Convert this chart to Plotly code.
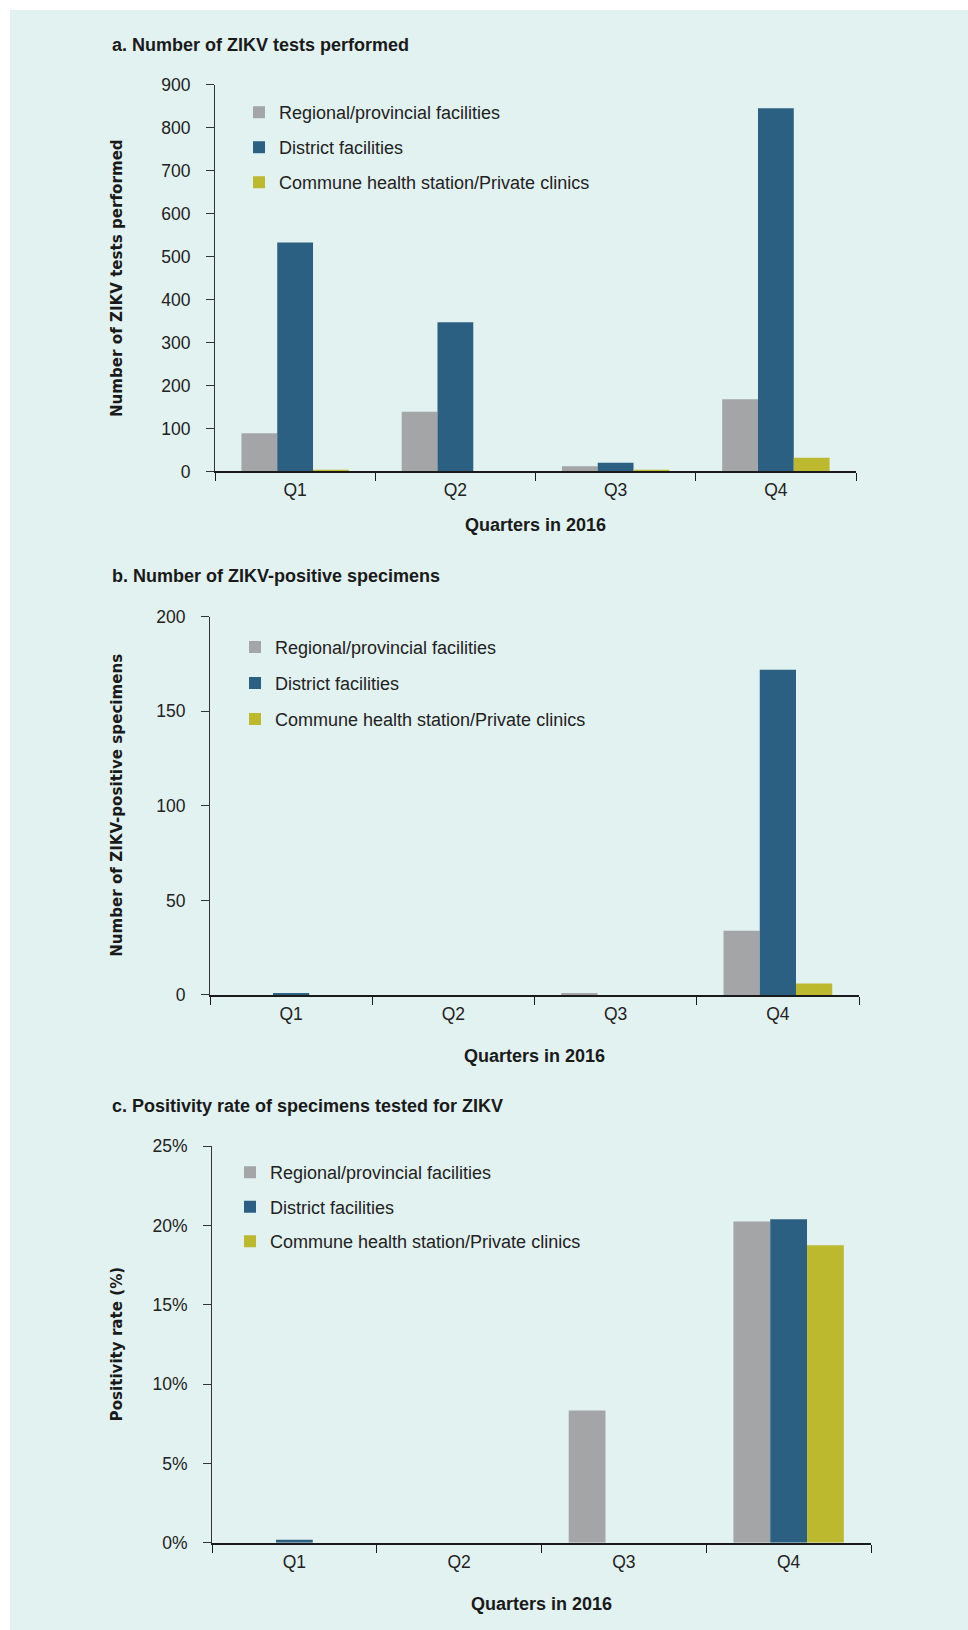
import plotly.graph_objects as go

# ---------------- data ----------------
quarters = ["Q1", "Q2", "Q3", "Q4"]
series_names = [
    "Regional/provincial facilities",
    "District facilities",
    "Commune health station/Private clinics",
]
series_colors = ["#a4a5a7", "#2b6083", "#bdb92f"]

# a. Number of ZIKV tests performed
tests_regional = [89, 139, 12, 168]
tests_district = [533, 347, 20, 845]
tests_commune = [2, 0, 2, 32]

# b. Number of ZIKV-positive specimens
pos_regional = [0, 0, 1, 34]
pos_district = [1, 0, 0, 172]
pos_commune = [0, 0, 0, 6]

# c. Positivity rate of specimens tested for ZIKV (fraction)
rate_regional = [0.0, 0.0, 0.0833, 0.2025]
rate_district = [0.0019, 0.0, 0.0, 0.2038]
rate_commune = [0.0, 0.0, 0.0, 0.1875]

panel_titles = [
    "a. Number of ZIKV tests performed",
    "b. Number of ZIKV-positive specimens",
    "c. Positivity rate of specimens tested for ZIKV",
]
y_titles = [
    "Number of ZIKV tests performed",
    "Number of ZIKV-positive specimens",
    "Positivity rate (%)",
]
x_title = "Quarters in 2016"

# ---------------- layout geometry ----------------
W = 968
H = 1641
BG = "#e2f2f1"
FONT = "Liberation Sans, Arial, sans-serif"
SY, OY = 0.9877, 9.7   # vertical mapping of the captured page


def fy(y):
    """target picture y (from top) -> paper fraction"""
    return 1 - ((y - OY) / SY) / H


LEG_FIRST = 18.5  # distance (figure px) from legend top to first row centre

panels = [
    dict(data=[tests_regional, tests_district, tests_commune],
         x0=215, x1=856, ybot=471.1, ytop=84.4, rng=[0, 900], dtick=100, fmt="",
         title_y=45, xlab_y=525, ytitle_x=117, leg_x=279, leg_row=112, leg_gap=8.6),
    dict(data=[pos_regional, pos_district, pos_commune],
         x0=210, x1=859, ybot=994.5, ytop=616.4, rng=[0, 200], dtick=50, fmt="",
         title_y=576, xlab_y=1055.5, ytitle_x=117, leg_x=275, leg_row=646.7, leg_gap=9.6),
    dict(data=[rate_regional, rate_district, rate_commune],
         x0=212, x1=871, ybot=1542.3, ytop=1145.6, rng=[0, 0.25], dtick=0.05, fmt=".0%",
         title_y=1106, xlab_y=1603.7, ytitle_x=117, leg_x=270, leg_row=1172, leg_gap=8.1),
]

fig = go.Figure()
annotations = []
layout_axes = {}

for i, p in enumerate(panels):
    n = "" if i == 0 else str(i + 1)
    leg = "legend" + n
    for j, vals in enumerate(p["data"]):
        fig.add_trace(go.Bar(
            x=quarters, y=vals, name=series_names[j],
            marker=dict(color=series_colors[j], line=dict(width=0)),
            xaxis="x" + n, yaxis="y" + n, legend=leg,
            legendgroup=f"g{i}{j}",
        ))
    layout_axes["xaxis" + n] = dict(
        domain=[p["x0"] / W, p["x1"] / W], anchor="y" + n,
        type="category", range=[-0.5, 3.5],
        showline=True, linecolor="#1a1a1a", linewidth=1.5,
        ticks="outside", tickson="boundaries", ticklen=8, tickcolor="#1a1a1a", tickwidth=1,
        ticklabelstandoff=2,
        showgrid=False, zeroline=False, fixedrange=True,
        tickfont=dict(family=FONT, size=17.5, color="#222"),
    )
    layout_axes["yaxis" + n] = dict(
        domain=[fy(p["ybot"]), fy(p["ytop"])], anchor="x" + n,
        range=p["rng"], dtick=p["dtick"], tickformat=p["fmt"],
        showline=True, linecolor="#333", linewidth=1,
        ticks="outside", ticklen=8, tickcolor="#333", tickwidth=1,
        ticklabelstandoff=12,
        showgrid=False, zeroline=False, fixedrange=True,
        tickfont=dict(family=FONT, size=17.5, color="#222"),
    )
    leg_top = (p["leg_row"] - OY) / SY - LEG_FIRST
    layout_axes[leg] = dict(
        x=(p["leg_x"] - 40) / W, y=1 - leg_top / H,
        xanchor="left", yanchor="top",
        bgcolor="rgba(0,0,0,0)", borderwidth=0,
        font=dict(family=FONT, size=18, color="#222"),
        tracegroupgap=p["leg_gap"], traceorder="grouped",
    )
    annotations.append(dict(
        text=panel_titles[i], x=110 / W, y=fy(p["title_y"]),
        xref="paper", yref="paper", xanchor="left", yanchor="middle", showarrow=False,
        font=dict(family=FONT, size=18, color="#1a1a1a", weight="bold"),
    ))
    annotations.append(dict(
        text=x_title, x=(p["x0"] + p["x1"]) / 2 / W, y=fy(p["xlab_y"]),
        xref="paper", yref="paper", xanchor="center", yanchor="middle", showarrow=False,
        font=dict(family=FONT, size=18, color="#1a1a1a", weight="bold"),
    ))
    annotations.append(dict(
        text=y_titles[i], x=p["ytitle_x"] / W, y=fy((p["ybot"] + p["ytop"]) / 2),
        xref="paper", yref="paper", xanchor="center", yanchor="middle", showarrow=False,
        textangle=-90,
        font=dict(family="DejaVu Sans, Verdana, sans-serif", size=15.1, color="#1a1a1a", weight="bold"),
    ))

fig.update_layout(
    width=W, height=H,
    margin=dict(l=0, r=0, t=0, b=0),
    paper_bgcolor="white", plot_bgcolor="rgba(0,0,0,0)",
    barmode="group", bargap=0.33, bargroupgap=0,
    showlegend=True,
    annotations=annotations,
    shapes=[dict(type="rect", xref="paper", yref="paper",
                 x0=10 / W, x1=1, y0=0, y1=1,
                 fillcolor=BG, line=dict(width=0), layer="below")],
    **layout_axes,
)

fig.write_html(
    "out.html",
    config={"displayModeBar": False},
    post_script="document.documentElement.style.margin='0';document.body.style.margin='0';"
                "document.documentElement.style.overflow='hidden';document.body.style.overflow='hidden';",
)
